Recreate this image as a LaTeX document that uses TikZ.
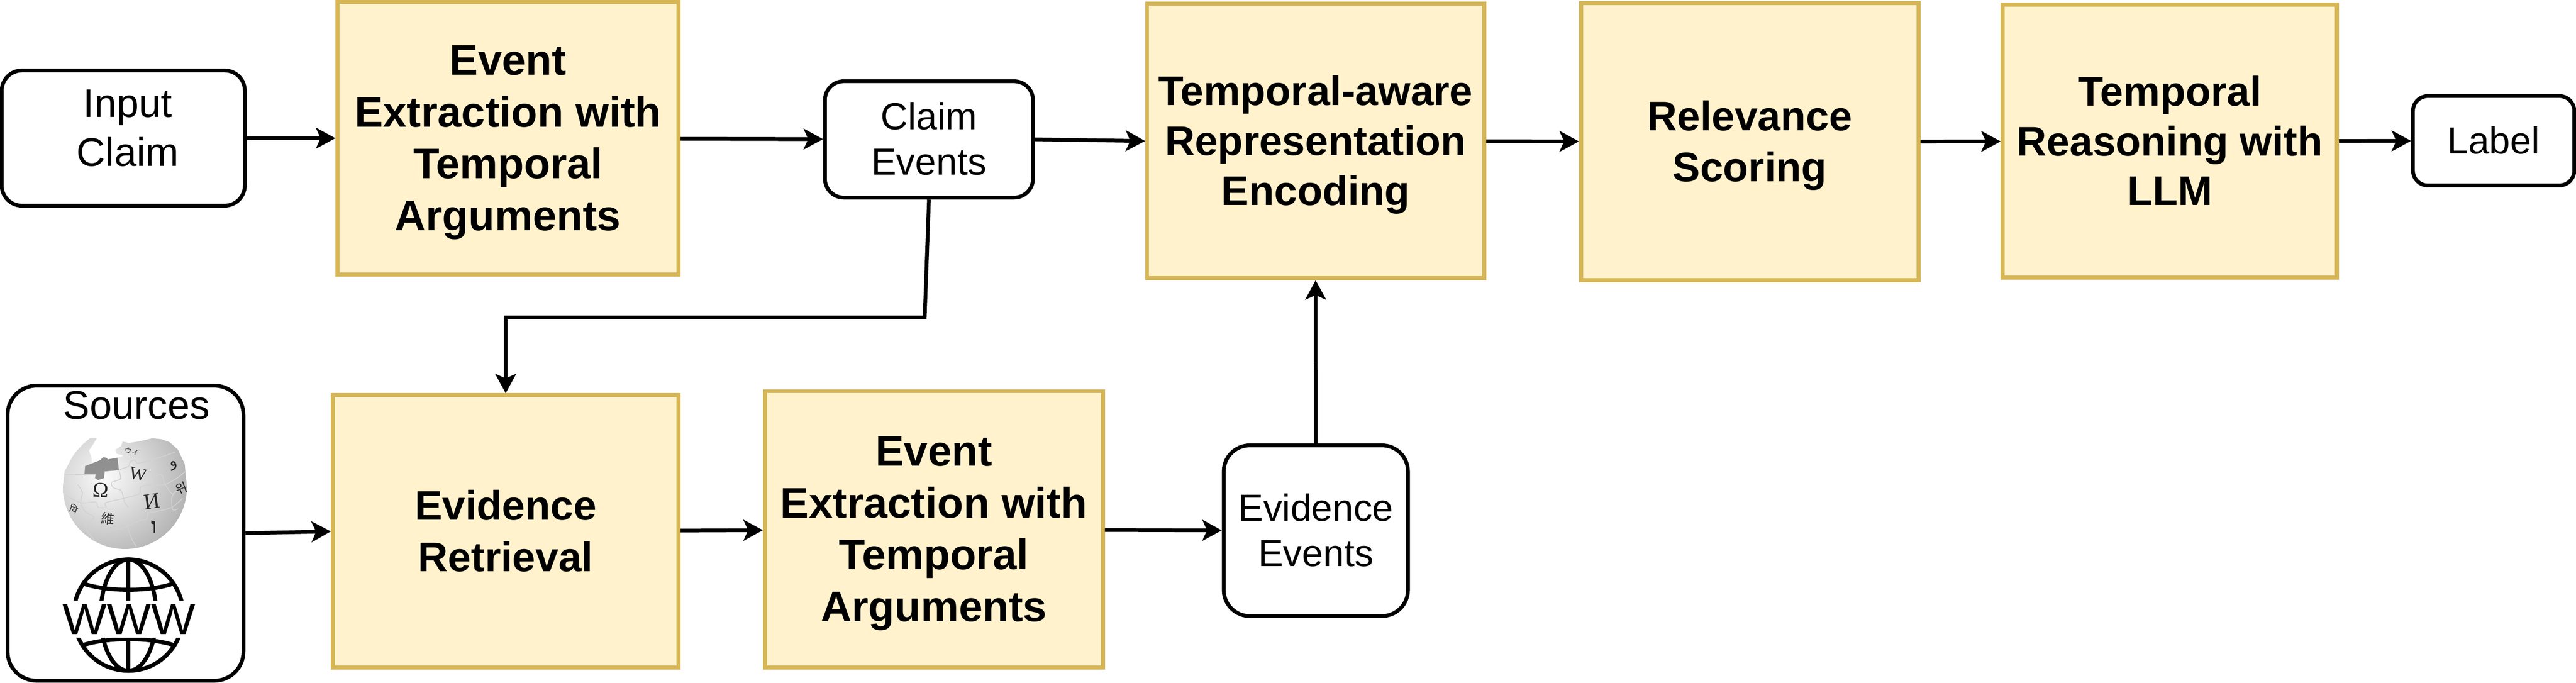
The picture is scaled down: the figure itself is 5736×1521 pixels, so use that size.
\documentclass[tikz,border=0pt]{standalone}
\usepackage{fontspec}
\setmainfont{Liberation Sans}
\newfontfamily\globeserif{Liberation Serif}
\newfontfamily\globecjk{Noto Sans CJK SC}
\newfontfamily\globekr{Noto Sans CJK KR}
\newfontfamily\globearab[Script=Arabic]{DejaVu Sans}
\newfontfamily\globedeva[Script=Devanagari]{Noto Sans}
\TeXXeTstate=1
\usetikzlibrary{arrows.meta}
\definecolor{stepfill}{HTML}{FFF2CC}
\definecolor{stepline}{HTML}{D6B656}
\newcommand{\topgap}{\rule{0pt}{1.1cm}}
\newcommand{\lowgap}{\rule{0pt}{.9cm}}
\tikzset{
stepbox/.style={draw=stepline,fill=stepfill,line width=2.56pt,align=center,inner sep=0pt,
  font=\fontsize{26.2pt}{32.4pt}\selectfont\bfseries,
  execute at end node={\rule[-.46cm]{0pt}{.46cm}}},
tallstep/.style={stepbox,font=\fontsize{26.2pt}{31.6pt}\selectfont\bfseries},
widestep/.style={stepbox,font=\fontsize{27.1pt}{32.8pt}\selectfont\bfseries},
textbox/.style={draw=black,fill=white,line width=2.4pt,align=center,inner sep=0pt,
  font=\fontsize{23.9pt}{28.7pt}\selectfont,
  execute at end node={\rule[-.32cm]{0pt}{.32cm}}},
flow/.style={draw=black,line width=2.36pt,-{Stealth[length=.43cm,width=.46cm,inset=.1cm]}},
seam/.style={draw=gray!35,line width=.5pt},
wwwline/.style={draw=black,line width=2.56pt}
}
\begin{document}
\begin{tikzpicture}[x=.01cm,y=-.01cm]
\useasboundingbox (0,0) rectangle (5736,1521);
% top row
\node[textbox,rounded corners=.45cm,minimum width=5.41cm,minimum height=3.01cm,
font=\fontsize{25.3pt}{30.7pt}\selectfont,
execute at end node={\rule[-.74cm]{0pt}{.74cm}}] (input) at (274.5,307.5) {\lowgap\hspace*{.2cm}Input\\\hspace*{.2cm}Claim};
\node[widestep,minimum width=7.59cm,minimum height=6.07cm] (extract) at (1131,308) {\topgap Event\\Extraction with\\Temporal\\Arguments};
\node[textbox,rounded corners=.42cm,minimum width=4.63cm,minimum height=2.59cm] (claim) at (2068.5,310.5) {\lowgap Claim\\Events};
\node[tallstep,minimum width=7.5cm,minimum height=6.11cm] (encode) at (2929.5,314) {\topgap Temporal-aware\\Representation\\Encoding};
\node[stepbox,minimum width=7.51cm,minimum height=6.16cm] (score) at (3896,315.5) {\topgap Relevance\\Scoring};
\node[tallstep,minimum width=7.44cm,minimum height=6.08cm] (reason) at (4831.5,314.5) {\topgap Temporal\\Reasoning with\\LLM};
\node[textbox,rounded corners=.33cm,minimum width=3.59cm,minimum height=1.99cm] (label) at (5552.5,313.5) {\lowgap Label};
% bottom row
\node[textbox,rounded corners=.65cm,minimum width=5.25cm,minimum height=6.57cm] (sources) at (279.5,1187.5) {};
\node[stepbox,minimum width=7.69cm,minimum height=6.06cm] (retrieve) at (1126,1183.5) {\topgap Evidence\\Retrieval};
\node[widestep,minimum width=7.52cm,minimum height=6.15cm] (extracttwo) at (2079.5,1179) {\topgap Event\\Extraction with\\Temporal\\Arguments};
\node[textbox,rounded corners=.58cm,minimum width=4.1cm,minimum height=3.8cm] (evidence) at (2930,1182) {\lowgap Evidence\\Events};
\node[anchor=base,inner sep=0pt,font=\fontsize{25.3pt}{30.7pt}\selectfont] (srclabel) at (304,933) {Sources};
\coordinate (claimturn) at (2059,707);
\draw[flow] (input) -- (extract);
\draw[flow] (extract) -- (claim);
\draw[flow] (claim.east) -- (encode.west);
\draw[flow] (encode) -- (score);
\draw[flow] (score) -- (reason);
\draw[flow] (reason) -- (label);
\draw[flow] (claim.south) -- (claimturn) -| (retrieve.north);
\draw[flow] (sources.east) -- (retrieve.west);
\draw[flow] (retrieve) -- (extracttwo);
\draw[flow] (extracttwo) -- (evidence);
\draw[flow] (evidence.north) -- (encode.south);
% www globe
\draw[wwwline] (286,1370) ellipse [x radius=122,y radius=124];
\draw[wwwline] (286,1370) ellipse [x radius=62,y radius=124];
\draw[wwwline] (286,1246) -- (286,1494);
\draw[wwwline] (186,1300) .. controls (240,1318) and (332,1318) .. (385,1300);
\draw[wwwline] (184,1437) .. controls (240,1419) and (332,1419) .. (388,1437);
\node[fill=white,inner sep=0pt,xscale=1.08,minimum width=2.78cm,minimum height=.82cm,font=\fontsize{27.5pt}{30pt}\selectfont] (www) at (287,1379) {WWW};
% wiki globe, drawn in the pixels of its own crop
\begin{scope}[shift={(130,960)},x=.003333cm,y=-.003333cm]
\begin{scope}
\clip (860,375) -- plot[domain=0:180,samples=40] ({445+415*cos(\x)},{375+415*sin(\x)}) -- (42,270) -- (95,170) -- (125,130) -- (165,88) -- (215,45) -- (258,45) -- (235,85) -- (205,130) -- (222,180) -- (225,215) -- (178,235) -- (280,195) -- (300,175) -- (325,180) -- (330,190) -- (395,178) -- (437,165) -- (385,150) -- (382,125) -- (420,100) -- (430,70) -- (470,80) -- (545,68) -- (630,48) -- (690,55) -- (745,75) -- (800,125) -- (845,220) -- cycle;
\shade[inner color=gray!3,outer color=gray!70] (310,310) circle [radius=680];
\fill[gray!95!black,opacity=.8] (178,235) -- (280,195) -- (300,175) -- (325,180) -- (330,190) -- (395,178) -- (405,262) -- (310,270) -- (305,315) -- (265,328) -- (245,315) -- (250,290) -- (175,290) -- cycle;
\draw[seam] plot[smooth] coordinates {(40,290) (110,290) (175,292)};
\draw[seam] plot[smooth] coordinates {(405,258) (470,235) (480,205) (510,195) (530,215) (600,200) (640,185) (700,170) (780,140)};
\draw[seam] plot[smooth] coordinates {(405,262) (415,320) (355,345) (370,380) (420,400) (445,480) (470,510)};
\draw[seam] plot[smooth] coordinates {(50,430) (150,480) (250,475) (265,510) (320,510) (315,480) (440,450) (540,420) (550,375) (600,360) (640,360) (720,355) (800,310) (850,270)};
\draw[seam] plot[smooth] coordinates {(640,190) (610,250) (640,300) (690,290) (710,350) (760,420) (790,400) (760,440) (760,510) (770,530) (800,520)};
\draw[seam] plot[smooth] coordinates {(130,360) (160,410) (150,480) (180,540) (240,580) (180,640) (240,730)};
\draw[seam] plot[smooth] coordinates {(370,660) (430,650) (540,600) (590,590) (600,550) (650,540) (760,510) (830,450)};
\draw[seam] plot[smooth] coordinates {(460,640) (490,720) (520,770)};
\end{scope}
\node[rotate=-12,text=black!85,inner sep=0pt,font=\fontsize{11.5pt}{12pt}\selectfont\globeserif] (glw) at (532,290) {W};
\node[rotate=-3,text=black!85,inner sep=0pt,font=\fontsize{13.5pt}{14pt}\selectfont\globeserif] (glomega) at (282,395) {Ω};
\node[rotate=8,text=black!85,inner sep=0pt,font=\fontsize{14pt}{15pt}\selectfont\globeserif] (gli) at (625,470) {И};
\node[rotate=-5,text=black!85,inner sep=0pt,font=\fontsize{8.5pt}{9pt}\selectfont\globecjk] (glwei) at (332,585) {維};
\node[rotate=-8,text=black!85,inner sep=0pt,font=\fontsize{4.6pt}{5pt}\selectfont\globecjk] (glwi) at (490,135) {ウィ};
\node[rotate=20,text=black!85,inner sep=0pt,font=\fontsize{8pt}{9pt}\selectfont\globekr] (glkr) at (822,385) {위};
\node[rotate=20,text=black!85,inner sep=0pt,font=\fontsize{10pt}{11pt}\selectfont\globearab] (glar) at (775,232) {\beginR و\endR};
\node[rotate=-20,text=black!85,inner sep=0pt,font=\fontsize{6pt}{7pt}\selectfont\globedeva] (gldev) at (105,520) {वि};
\node[text=black!85,inner sep=0pt,font=\fontsize{14pt}{15pt}\selectfont\bfseries\globeserif] (glhe) at (640,640) {\beginR ו\endR};
\end{scope}
\end{tikzpicture}
\end{document}
